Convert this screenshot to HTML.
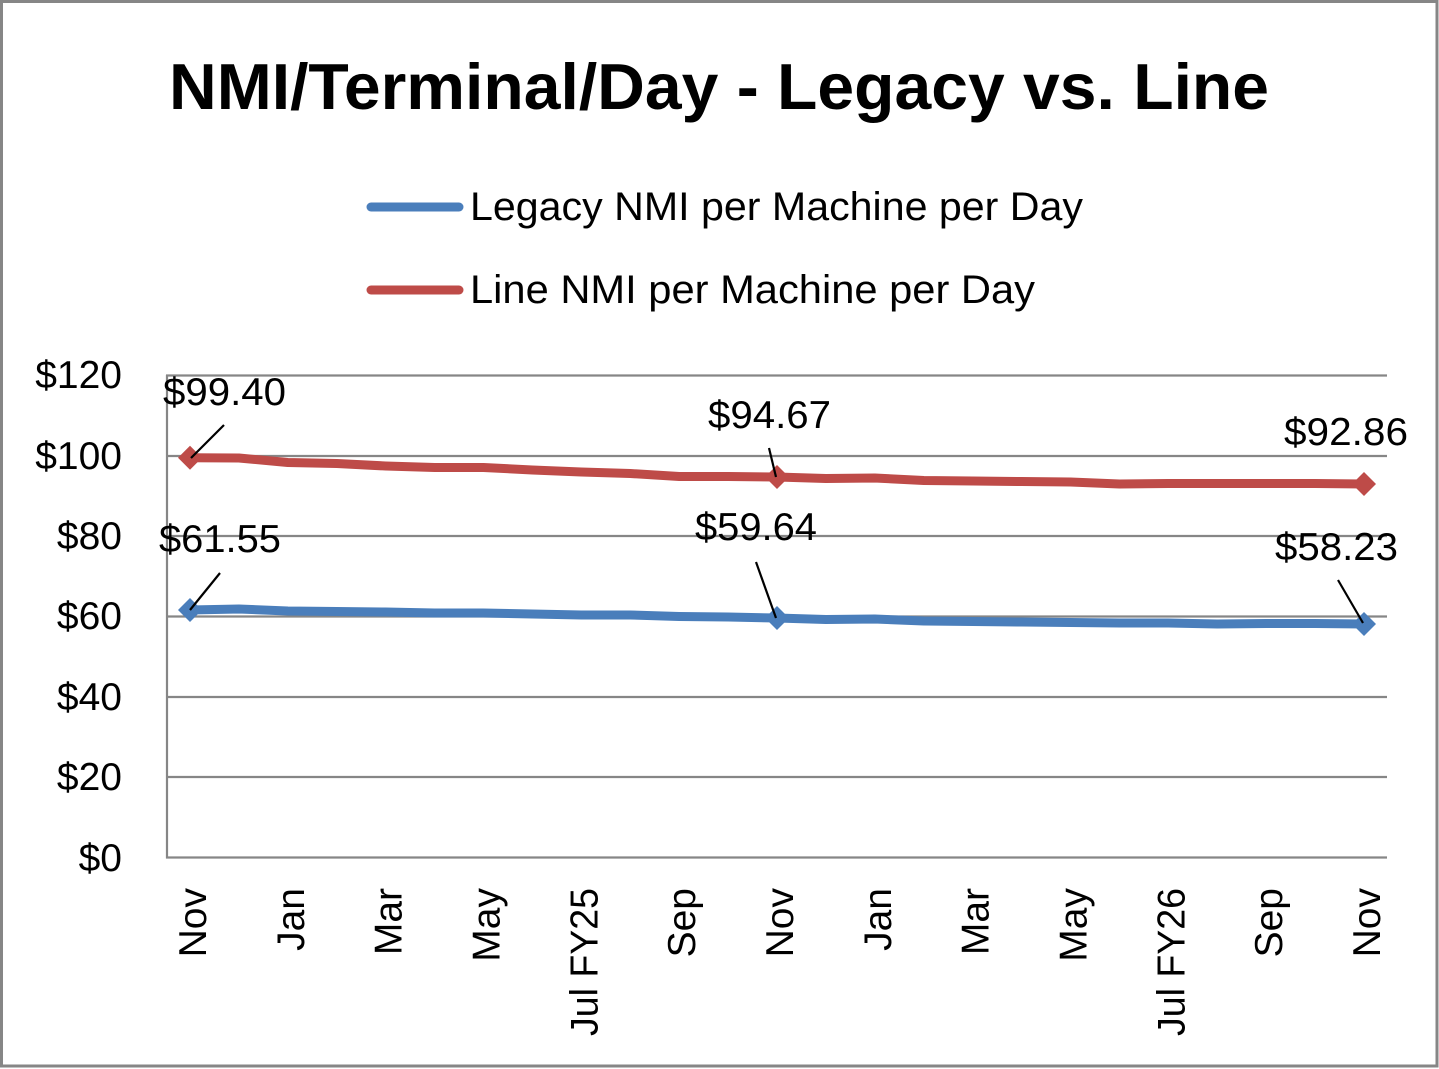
<!DOCTYPE html>
<html>
<head>
<meta charset="utf-8">
<style>
html,body{margin:0;padding:0;background:#fff;}
svg{display:block;}
text{font-family:"Liberation Sans",sans-serif;fill:#000;}
</style>
</head>
<body>
<svg width="1439" height="1069" viewBox="0 0 1439 1069" xmlns="http://www.w3.org/2000/svg">
  <rect x="0" y="0" width="1439" height="1069" fill="#fff"/>
  <rect x="1.5" y="1.5" width="1435.5" height="1064.5" fill="none" stroke="#868686" stroke-width="3"/>

  <!-- Title -->
  <text x="719" y="109" font-size="65" font-weight="bold" text-anchor="middle" textLength="1100" lengthAdjust="spacingAndGlyphs">NMI/Terminal/Day - Legacy vs. Line</text>

  <!-- Legend -->
  <line x1="371" y1="207" x2="459" y2="207" stroke="#4A7EBB" stroke-width="9" stroke-linecap="round"/>
  <text x="470" y="220" font-size="40" textLength="613" lengthAdjust="spacingAndGlyphs">Legacy NMI per Machine per Day</text>
  <line x1="371" y1="290" x2="459" y2="290" stroke="#BE4B48" stroke-width="9" stroke-linecap="round"/>
  <text x="470" y="303" font-size="40" textLength="565" lengthAdjust="spacingAndGlyphs">Line NMI per Machine per Day</text>

  <!-- Gridlines -->
  <g stroke="#868686" stroke-width="2.2">
    <line x1="166" y1="375.5" x2="1387" y2="375.5"/>
    <line x1="166" y1="456" x2="1387" y2="456"/>
    <line x1="166" y1="536" x2="1387" y2="536"/>
    <line x1="166" y1="616.5" x2="1387" y2="616.5"/>
    <line x1="166" y1="697" x2="1387" y2="697"/>
    <line x1="166" y1="777" x2="1387" y2="777"/>
    <line x1="166" y1="857.5" x2="1387" y2="857.5"/>
    <line x1="167" y1="375" x2="167" y2="858.5"/>
  </g>

  <!-- Y tick labels -->
  <g font-size="39" text-anchor="end">
    <text x="122" y="388">$120</text>
    <text x="122" y="469">$100</text>
    <text x="122" y="549">$80</text>
    <text x="122" y="629">$60</text>
    <text x="122" y="710">$40</text>
    <text x="122" y="790">$20</text>
    <text x="122" y="871">$0</text>
  </g>

  <!-- X labels -->
  <g font-size="39" text-anchor="end">
    <text transform="translate(206,888) rotate(-90)">Nov</text>
    <text transform="translate(303.8,888) rotate(-90)">Jan</text>
    <text transform="translate(401.7,888) rotate(-90)">Mar</text>
    <text transform="translate(499.5,888) rotate(-90)">May</text>
    <text transform="translate(597.3,888) rotate(-90)" textLength="148" lengthAdjust="spacingAndGlyphs">Jul FY25</text>
    <text transform="translate(695.2,888) rotate(-90)">Sep</text>
    <text transform="translate(793,888) rotate(-90)">Nov</text>
    <text transform="translate(890.8,888) rotate(-90)">Jan</text>
    <text transform="translate(988.7,888) rotate(-90)">Mar</text>
    <text transform="translate(1086.5,888) rotate(-90)">May</text>
    <text transform="translate(1184.3,888) rotate(-90)" textLength="148" lengthAdjust="spacingAndGlyphs">Jul FY26</text>
    <text transform="translate(1282.2,888) rotate(-90)">Sep</text>
    <text transform="translate(1380,888) rotate(-90)">Nov</text>
  </g>

  <!-- Red series -->
  <polyline fill="none" stroke="#BE4B48" stroke-width="9" stroke-linejoin="round"
    points="190,457.7 238.9,458 287.8,462.5 336.8,463.5 385.7,466 434.6,467.5 483.5,467.5 532.4,470 581.3,472 630.3,473.5 679.2,476.5 728.1,476.5 777,477 825.9,478.5 874.8,478 923.8,480.5 972.7,481 1021.6,481.5 1070.5,482 1119.4,484 1168.3,483.5 1217.3,483.5 1266.2,483.5 1315.1,483.5 1364,484"/>
  <g fill="#BE4B48">
    <polygon points="190,445.7 202,457.7 190,469.7 178,457.7"/>
    <polygon points="777,465 789,477 777,489 765,477"/>
    <polygon points="1364,472 1376,484 1364,496 1352,484"/>
  </g>

  <!-- Blue series -->
  <polyline fill="none" stroke="#4A7EBB" stroke-width="9" stroke-linejoin="round"
    points="190,610 238.9,609 287.8,611 336.8,611.5 385.7,612 434.6,613 483.5,613 532.4,614 581.3,615 630.3,615 679.2,616.5 728.1,617 777,618 825.9,619.5 874.8,619 923.8,621 972.7,621.5 1021.6,622 1070.5,622.5 1119.4,623 1168.3,623 1217.3,624 1266.2,623.5 1315.1,623.5 1364,624"/>
  <g fill="#4A7EBB">
    <polygon points="190,598 202,610 190,622 178,610"/>
    <polygon points="777,606 789,618 777,630 765,618"/>
    <polygon points="1364,612 1376,624 1364,636 1352,624"/>
  </g>

  <!-- Leader lines -->
  <g stroke="#000" stroke-width="2.2">
    <line x1="224" y1="425" x2="191" y2="458"/>
    <line x1="769" y1="448" x2="776" y2="477"/>
    <line x1="220" y1="573" x2="190" y2="610"/>
    <line x1="756" y1="562" x2="776" y2="618"/>
    <line x1="1338" y1="580" x2="1363" y2="623"/>
  </g>

  <!-- Data labels -->
  <g font-size="39">
    <text x="163" y="405" textLength="123" lengthAdjust="spacingAndGlyphs">$99.40</text>
    <text x="708" y="428" textLength="123" lengthAdjust="spacingAndGlyphs">$94.67</text>
    <text x="1284" y="445" textLength="124" lengthAdjust="spacingAndGlyphs">$92.86</text>
    <text x="159" y="552" textLength="122" lengthAdjust="spacingAndGlyphs">$61.55</text>
    <text x="695" y="540" textLength="122" lengthAdjust="spacingAndGlyphs">$59.64</text>
    <text x="1275" y="560" textLength="123" lengthAdjust="spacingAndGlyphs">$58.23</text>
  </g>
</svg>
</body>
</html>
